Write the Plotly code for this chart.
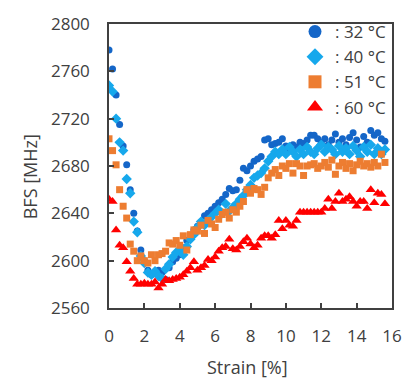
import plotly.graph_objects as go

strain = [0.0, 0.2, 0.4, 0.6, 0.8, 1.0, 1.2, 1.4, 1.6, 1.8, 2.0, 2.2, 2.4, 2.6, 2.8, 3.0,
          3.2, 3.4, 3.6, 3.8, 4.0, 4.2, 4.4, 4.6, 4.8, 5.0, 5.2, 5.4, 5.6, 5.8, 6.0, 6.2,
          6.4, 6.6, 6.8, 7.0, 7.2, 7.4, 7.6, 7.8, 8.0, 8.2, 8.4, 8.6, 8.8, 9.0, 9.2, 9.4,
          9.6, 9.8, 10.0, 10.2, 10.4, 10.6, 10.8, 11.0, 11.2, 11.4, 11.6, 11.8, 12.0, 12.2,
          12.4, 12.6, 12.8, 13.0, 13.2, 13.4, 13.6, 13.8, 14.0, 14.2, 14.4, 14.6, 14.8, 15.0,
          15.2, 15.4, 15.6]

bfs_32 = [2778, 2762, 2740, 2715, 2697, 2681, 2660, 2640, 2625, 2609, 2600, 2592, 2588, 2590, 2592, 2590,
          2584, 2594, 2599, 2602, 2605, 2611, 2617, 2620, 2626, 2629, 2632, 2638, 2640, 2643, 2646, 2649,
          2652, 2656, 2661, 2659, 2660, 2668, 2678, 2676, 2680, 2684, 2686, 2688, 2702, 2703, 2698, 2699,
          2700, 2703, 2697, 2694, 2698, 2696, 2700, 2699, 2702, 2706, 2706, 2703, 2700, 2703,
          2698, 2702, 2707, 2700, 2703, 2698, 2704, 2708, 2702, 2696, 2705, 2700, 2710, 2706,
          2708, 2703, 2701]

bfs_40 = [2748, 2743, 2720, 2700, 2693, 2669, 2657, 2633, 2624, 2604, 2598, 2590, 2588, 2591, 2587, 2585,
          2593, 2597, 2603, 2607, 2609, 2605, 2612, 2618, 2622, 2628, 2633, 2630, 2634, 2637, 2640, 2643,
          2640, 2648, 2642, 2645, 2648, 2652, 2655, 2660, 2664, 2670, 2672, 2674, 2678, 2684, 2688, 2692,
          2690, 2694, 2690, 2696, 2692, 2688, 2694, 2690, 2696, 2692, 2690, 2695, 2698, 2692,
          2696, 2694, 2690, 2697, 2692, 2695, 2690, 2697, 2693, 2688, 2696, 2692, 2698, 2690,
          2695, 2690, 2694]

bfs_51 = [2703, 2693, 2681, 2660, 2646, 2636, 2614, 2608, 2600, 2604, 2600, 2598, 2605, 2600, 2605, 2606,
          2608, 2615, 2614, 2617, 2613, 2621, 2609, 2622, 2626, 2625, 2630, 2623, 2634, 2631, 2628, 2635,
          2639, 2641, 2636, 2643, 2641, 2646, 2650, 2660, 2657, 2661, 2660, 2656, 2662, 2670, 2674, 2677,
          2672, 2680, 2678, 2682, 2674, 2682, 2680, 2672, 2680, 2681, 2682, 2678, 2680, 2683,
          2679, 2685, 2673, 2680, 2683, 2678, 2682, 2676, 2681, 2684, 2680, 2682, 2679, 2683,
          2680, 2690, 2683]

bfs_60 = [2652, 2650, 2626, 2613, 2611, 2599, 2591, 2585, 2580, 2580, 2581, 2580, 2580, 2582, 2577, 2580,
          2584, 2583, 2584, 2585, 2586, 2588, 2591, 2594, 2599, 2592, 2594, 2596, 2601, 2600, 2603, 2608,
          2611, 2612, 2618, 2610, 2609, 2612, 2616, 2619, 2614, 2611, 2613, 2619, 2621, 2621, 2619, 2622,
          2634, 2627, 2634, 2630, 2629, 2634, 2641, 2641, 2641, 2641, 2641, 2641, 2641, 2644,
          2652, 2644, 2650, 2657, 2650, 2652, 2654, 2650, 2646, 2650, 2650, 2644, 2660, 2649,
          2657, 2656, 2648]

labels = [": 32 °C", ": 40 °C", ": 51 °C", ": 60 °C"]
colors = ["#1466c8", "#16a8ec", "#ed7d31", "#ff0000"]
symbols = ["circle", "diamond", "square", "triangle-up"]
sizes = [7, 8, 7, 9]
legend_sizes = [13, 13, 13, 14]
x_ticks = [0, 2, 4, 6, 8, 10, 12, 14, 16]
y_ticks = [2560, 2600, 2640, 2680, 2720, 2760, 2800]

FONT = "Open Sans"
TXT = "#404040"

fig = go.Figure()
series = [bfs_32, bfs_40, bfs_51, bfs_60]
for ys, lab, c, s, sz in zip(series, labels, colors, symbols, sizes):
    fig.add_trace(go.Scatter(x=strain, y=ys, mode="markers", showlegend=False,
                             marker=dict(color=c, symbol=s, size=sz, line=dict(width=0))))
for lab, c, s, sz in zip(labels, colors, symbols, legend_sizes):
    fig.add_trace(go.Scatter(x=[None], y=[None], mode="markers", name=lab,
                             marker=dict(color=c, symbol=s, size=sz, line=dict(width=0))))

fig.update_layout(
    width=414, height=385,
    margin=dict(l=109, r=12, t=12, b=77),
    paper_bgcolor="white", plot_bgcolor="white",
    font=dict(family=FONT, size=17, color=TXT),
    showlegend=True,
    legend=dict(x=1.0, y=1.035, xanchor="right", yanchor="top",
                bgcolor="rgba(0,0,0,0)", font=dict(size=17, color=TXT),
                itemwidth=30, tracegroupgap=0),
    xaxis=dict(range=[0, 16], tickvals=x_ticks, ticktext=[str(v) for v in x_ticks],
               ticks="inside", ticklen=5, tickcolor=TXT, tickwidth=1.5,
               showline=True, linecolor=TXT, linewidth=1.5, mirror=True,
               showgrid=False, zeroline=False, ticklabelstandoff=12,
               tickfont=dict(size=17, color=TXT)),
    yaxis=dict(range=[2560, 2800], tickvals=y_ticks, ticktext=[str(v) for v in y_ticks],
               ticks="inside", ticklen=5, tickcolor=TXT, tickwidth=1.5,
               showline=True, linecolor=TXT, linewidth=1.5, mirror=True,
               showgrid=False, zeroline=False, ticklabelstandoff=14,
               tickfont=dict(size=17, color=TXT)),
    annotations=[
        dict(text="Strain [%]", xref="paper", yref="paper", x=0.49, y=-0.209,
             xanchor="center", yanchor="middle", showarrow=False,
             font=dict(size=18, color=TXT)),
        dict(text="BFS [MHz]", xref="paper", yref="paper", x=-0.28, y=0.463,
             xanchor="center", yanchor="middle", showarrow=False, textangle=-90,
             font=dict(size=18, color=TXT)),
    ],
)

fig.write_html("out.html")
